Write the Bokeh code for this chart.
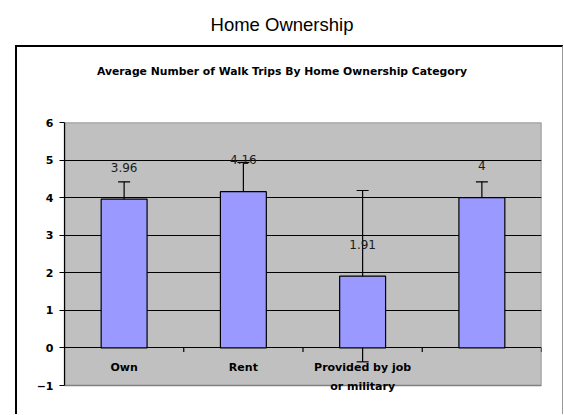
from bokeh.plotting import figure
from bokeh.layouts import column
from bokeh.models import (Range1d, FixedTicker, ColumnDataSource, Whisker, TeeHead, Div)
from bokeh.core.properties import value
from bokeh.embed import file_html
from bokeh.resources import INLINE

# ---- data ----
categories = ["Own", "Rent", "Provided by job\nor military", ""]
means = [3.96, 4.16, 1.91, 4.0]
errors = [0.46, 0.78, 2.28, 0.42]
value_labels = ["3.96", "4.16", "1.91", "4"]
y_ticks = [-1, 0, 1, 2, 3, 4, 5, 6]
title_text = "Home Ownership"
subtitle_text = "Average Number of Walk Trips By Home Ownership Category"

# ---- layout geometry (page px) ----
PAGE_W = 564
TITLE_H = 45
BOX_L = 15
BORDER_L, BORDER_T, BORDER_R = 2, 2, 1
SUB_H = 45
FIG_W = 545
FIG_H = 322
FRAME_L, FRAME_R, FRAME_T, FRAME_B = 64, 541, 122, 385   # grey plot area on page

fig_x0 = BOX_L + BORDER_L
fig_y0 = TITLE_H + BORDER_T + SUB_H
fig_bottom = fig_y0 + FIG_H
px_per_unit = (FRAME_B - FRAME_T) / (y_ticks[-1] - y_ticks[0])
y_start = y_ticks[0] - (fig_bottom - FRAME_B) / px_per_unit

n = len(categories)
xs = [i + 0.5 for i in range(n)]
src = ColumnDataSource(dict(
    x=xs, top=means, cat=categories, lab=value_labels,
    upper=[m + e for m, e in zip(means, errors)],
    lower=[m - e for m, e in zip(means, errors)],
))

p = figure(width=FIG_W, height=FIG_H, output_backend="svg", toolbar_location=None,
           x_range=Range1d(0, n), y_range=Range1d(y_start, y_ticks[-1]),
           min_border_left=FRAME_L - fig_x0, min_border_right=fig_x0 + FIG_W - FRAME_R,
           min_border_top=FRAME_T - fig_y0, min_border_bottom=0,
           background_fill_color="white", border_fill_color="white",
           outline_line_color=None)

# grey plot area
p.quad(left=[0], right=[n], bottom=[y_ticks[0]], top=[y_ticks[-1]],
       fill_color="#C0C0C0", line_color="#808080", line_width=1.5, level="image")

p.xaxis.visible = False
p.xgrid.visible = False
yax = p.yaxis[0]
yax.ticker = FixedTicker(ticks=y_ticks)
yax.bounds = (y_ticks[0], y_ticks[-1])
yax.axis_line_color = "black"
yax.axis_line_width = 1.2
yax.major_tick_line_color = "black"
yax.major_tick_out = 5
yax.major_tick_in = 0
yax.minor_tick_line_color = None
yax.major_label_text_font = "DejaVu Sans"
yax.major_label_text_font_style = "bold"
yax.major_label_text_font_size = "11px"
yax.major_label_text_color = "black"
yax.major_label_standoff = 6

p.ygrid.ticker = FixedTicker(ticks=[t for t in y_ticks if y_ticks[0] < t < y_ticks[-1]])
p.ygrid.grid_line_color = "black"
p.ygrid.grid_line_width = 1.2

# category boundary ticks below zero line
tick_len = 4 / px_per_unit
bx = list(range(1, n + 1))
p.segment(x0=bx, x1=bx, y0=[0] * n, y1=[-tick_len] * n, line_color="black", line_width=1.2)

p.vbar(x="x", top="top", bottom=0, width=0.385, source=src,
       fill_color="#9999FF", line_color="black", line_width=1.2)

wh = Whisker(base="x", upper="upper", lower="lower", source=src,
             line_color="black", line_width=1.2,
             upper_head=TeeHead(size=12, line_color="black", line_width=1.2),
             lower_head=TeeHead(size=12, line_color="black", line_width=1.2))
p.add_layout(wh)

p.text(x="x", y="top", text="lab", source=src, y_offset=-32,
       text_align="center", text_baseline="middle",
       text_font=value("DejaVu Sans"), text_font_size="12px", text_color="#1a1a1a")

p.text(x="x", y=0, text="cat", source=src, y_offset=13,
       text_align="center", text_baseline="top", text_line_height=1.45,
       text_font=value("DejaVu Sans"), text_font_style="bold",
       text_font_size="11px", text_color="black")

title_div = Div(
    text=(f'<div style="width:{PAGE_W}px;text-align:center;font-family:\'Liberation Sans\';'
          f'font-size:18.5px;line-height:20px;padding-top:15px;color:black;">{title_text}</div>'),
    width=PAGE_W, height=TITLE_H, margin=0)
sub_div = Div(
    text=(f'<div style="width:530px;text-align:center;font-family:\'DejaVu Sans\';font-weight:bold;'
          f'font-size:10.8px;line-height:14px;padding-top:18px;color:black;">{subtitle_text}</div>'),
    width=FIG_W, height=SUB_H, margin=0)
p.margin = 0

box = column(sub_div, p, margin=(0, 0, 0, BOX_L), spacing=0,
             styles={"border-left": f"{BORDER_L}px solid black",
                     "border-top": f"{BORDER_T}px solid black",
                     "border-right": f"{BORDER_R}px solid #999999"})
page = column(title_div, box, margin=0, spacing=0)

open("out.html", "w").write(file_html(page, INLINE))
